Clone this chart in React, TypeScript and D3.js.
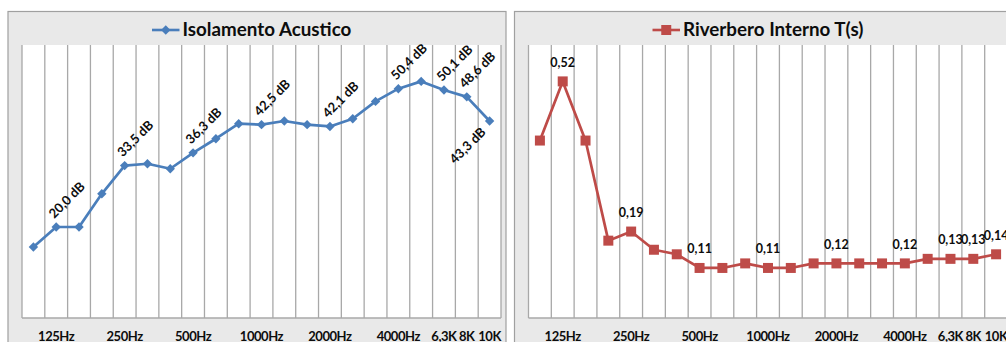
import React from "react";
import * as d3 from "d3";

// Third-octave bands, 100 Hz – 10 kHz
const bands = [
  "100", "125", "160", "200", "250", "315", "400", "500", "630", "800",
  "1000", "1250", "1600", "2000", "2500", "3150", "4000", "5000", "6300", "8000", "10000",
];
const tickLabels = [
  "", "125Hz", "", "", "250Hz", "", "", "500Hz", "", "", "1000Hz",
  "", "", "2000Hz", "", "", "4000Hz", "", "6,3K", "8K", "10K",
];
// Sound insulation (dB) per band
const isolamento = [
  15.6, 20.0, 20.0, 27.3, 33.5, 33.9, 32.8, 36.3, 39.4, 42.7, 42.5,
  43.3, 42.5, 42.1, 43.8, 47.6, 50.4, 52.0, 50.1, 48.6, 43.3,
];
// Internal reverberation time T (s) per band
const riverbero = [
  0.39, 0.52, 0.39, 0.17, 0.19, 0.15, 0.14, 0.11, 0.11, 0.12, 0.11,
  0.11, 0.12, 0.12, 0.12, 0.12, 0.12, 0.13, 0.13, 0.13, 0.14,
];
// Bands whose value is printed
const labelledBands = [1, 4, 7, 10, 13, 16, 18, 19, 20];
const labelBelowBands = [20];

const W = 1006;
const H = 342;
const BOX_W = 498;
const PLOT_OFF = 14.5;
const PLOT_W = 479;
const PLOT_TOP = 45;
const PLOT_BOTTOM = 318;
const FONT = "Lato, 'Open Sans', sans-serif";
const GRID = "#a8a8a8";
const BG = "#e9e9e9";
const INK = "#0d0d0d";

const comma = (s: string) => s.replace(".", ",");

type ChartProps = {
  x0: number;
  title: string;
  values: number[];
  yMax: number;
  color: string;
  marker: "diamond" | "square";
  fmt: (v: number) => string;
  rotated: boolean;
  titleX: number;
};

function markerPath(kind: "diamond" | "square", cx: number, cy: number) {
  if (kind === "diamond") {
    const r = 4.7;
    return `M${cx},${cy - r}L${cx + r},${cy}L${cx},${cy + r}L${cx - r},${cy}Z`;
  }
  const h = 5;
  return `M${cx - h},${cy - h}H${cx + h}V${cy + h}H${cx - h}Z`;
}

function Chart({ x0, title, values, yMax, color, marker, fmt, rotated, titleX }: ChartProps) {
  const left = x0 + PLOT_OFF;
  const x = d3.scaleBand<string>().domain(bands).range([left, left + PLOT_W]).padding(0);
  const y = d3.scaleLinear().domain([0, yMax]).range([PLOT_BOTTOM, PLOT_TOP]);
  const cx = (i: number) => (x(bands[i]) as number) + x.bandwidth() / 2;
  const line = d3
    .line<number>()
    .x((_, i) => cx(i))
    .y((d) => y(d));

  const boundaries = bands.map((b) => x(b) as number).concat([left + PLOT_W]);
  const keyW = 27.5;

  return (
    <g>
      <rect x={x0 + 0.5} y={11.5} width={BOX_W} height={H} fill={BG} stroke="#a0a0a0" strokeWidth={1.2} />
      <rect x={left} y={PLOT_TOP} width={PLOT_W} height={PLOT_BOTTOM - PLOT_TOP} fill="#ffffff" />
      {boundaries.map((bx, i) => (
        <line key={i} x1={bx} x2={bx} y1={PLOT_TOP} y2={PLOT_BOTTOM} stroke={GRID} strokeWidth={1.3} />
      ))}
      <line x1={left} x2={left + PLOT_W} y1={PLOT_BOTTOM} y2={PLOT_BOTTOM} stroke={GRID} strokeWidth={1.3} />

      {/* legend key + title */}
      <line x1={titleX - keyW - 3} x2={titleX - 3} y1={30} y2={30} stroke={color} strokeWidth={2.6} />
      <path d={markerPath(marker, titleX - 3 - keyW / 2, 30)} fill={color} />
      <text x={titleX} y={35.5} fontFamily={FONT} fontWeight={700} fontSize={18.8} fill={INK}>
        {title}
      </text>

      {/* series */}
      <path d={line(values) || ""} fill="none" stroke={color} strokeWidth={2.7} strokeLinejoin="round" />
      {values.map((v, i) => (
        <path key={i} d={markerPath(marker, cx(i), y(v))} fill={color} />
      ))}

      {/* value labels */}
      {labelledBands.map((i) => {
        const px = cx(i);
        const py = y(values[i]);
        const label = fmt(values[i]);
        if (rotated) {
          const below = labelBelowBands.includes(i);
          const ox = below ? px - 3 : px - 2;
          const oy = below ? py + 12 : py - 8;
          return (
            <text
              key={i}
              transform={`translate(${ox},${oy}) rotate(-45)`}
              textAnchor={below ? "end" : "start"}
              fontFamily={FONT}
              fontWeight={700}
              fontSize={13}
              fill={INK}
            >
              {label}
            </text>
          );
        }
        return (
          <text key={i} x={px} y={py - 14.5} textAnchor="middle" fontFamily={FONT} fontWeight={700} fontSize={12.5}
            fill={INK}>
            {label}
          </text>
        );
      })}

      {/* category axis labels */}
      {tickLabels.map((t, i) =>
        t ? (
          <text key={i} x={cx(i)} y={340.5} textAnchor="middle" fontFamily={FONT} fontWeight={700} fontSize={13}
            letterSpacing={-0.45} fill={INK}>
            {t}
          </text>
        ) : null
      )}
    </g>
  );
}

export default function App() {
  return (
    <svg
      width={W}
      height={H}
      viewBox={`0 0 ${W} ${H}`}
      style={{ position: "absolute", left: 0, top: 0, background: "#ffffff" }}
    >
      <Chart
        x0={7.5}
        title="Isolamento Acustico"
        values={isolamento}
        yMax={60}
        color="#4a7ebb"
        marker="diamond"
        fmt={(v) => comma(d3.format(".1f")(v)) + " dB"}
        rotated={true}
        titleX={182.5}
      />
      <Chart
        x0={514}
        title="Riverbero Interno T(s)"
        values={riverbero}
        yMax={0.6}
        color="#be4b48"
        marker="square"
        fmt={(v) => comma(d3.format(".2f")(v))}
        rotated={false}
        titleX={683}
      />
    </svg>
  );
}
